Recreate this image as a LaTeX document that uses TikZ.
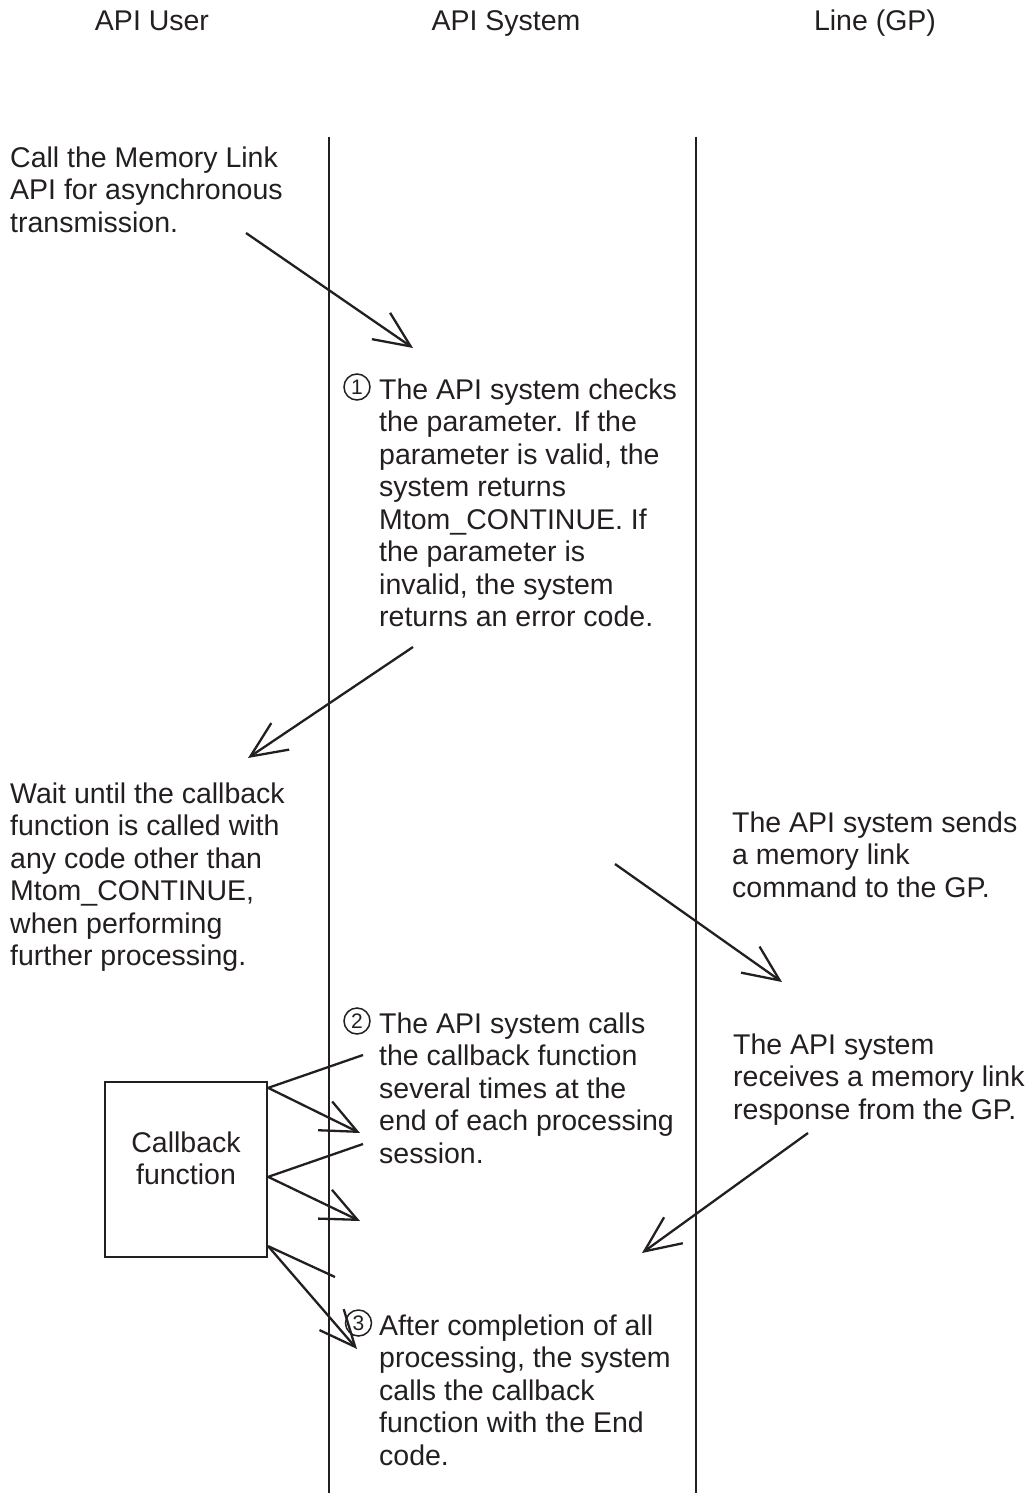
\documentclass[tikz,border=0pt]{standalone}
\usepackage{fontspec}
\setmainfont{Liberation Sans}
\usetikzlibrary{arrows.meta}
\definecolor{ink}{RGB}{35,31,32}
\begin{document}
\begin{tikzpicture}[x=1pt,y=-1pt,
  txt/.style={anchor=north west, inner sep=0pt, align=left, text=ink,
    font=\fontsize{28.5}{32.5}\selectfont},
  hdr/.style={anchor=base, inner sep=0pt, text=ink, font=\fontsize{28.5}{32.5}\selectfont},
  num/.style={circle, draw=ink, line width=1.5pt, minimum size=26pt, inner sep=0pt, text=ink,
    font=\fontsize{21}{22}\selectfont},
  lifeline/.style={draw=ink, line width=2.3pt},
  conn/.style={draw=ink, line width=2.3pt},
  arr/.style={conn, -{Straight Barb[length=36pt,width=32pt,line width=2.3pt]}},
  cbbox/.style={draw=ink, line width=2.3pt, minimum width=162pt, minimum height=175pt, inner sep=0pt}
]
\useasboundingbox (0,0) rectangle (1034,1493);
\newcommand{\st}{\vrule height 24pt width 0pt depth 0pt}

% headers
\node[hdr] (h1) at (152,31) {API User};
\node[hdr] (h2) at (506,31) {API System};
\node[hdr] (h3) at (875,31) {Line (GP)};

% lifelines
\coordinate (l1t) at (329,137);
\coordinate (l1b) at (329,1493);
\coordinate (l2t) at (696,137);
\coordinate (l2b) at (696,1493);
\draw[lifeline] (l1t) -- (l1b);
\draw[lifeline] (l2t) -- (l2b);

% texts
\node[txt] (call) at (10,143) {\st Call the Memory Link\\API for asynchronous\\transmission.};
\node[num] (n1) at (357,387) {1};
\node[txt] (t1) at (379,375) {\st The API system checks\\the parameter. If the\\parameter is valid, the\\system returns\\Mtom\_CONTINUE. If\\the parameter is\\invalid, the system\\returns an error code.};
\node[txt] (wait) at (10,779) {\st Wait until the callback\\function is called with\\any code other than\\Mtom\_CONTINUE,\\when performing\\further processing.};
\node[txt] (send) at (732,808) {\st The API system sends\\a memory link\\command to the GP.};
\node[num] (n2) at (357,1021) {2};
\node[txt] (t2) at (379,1009) {\st The API system calls\\the callback function\\several times at the\\end of each processing\\session.};
\node[txt] (recv) at (733,1030) {\st The API system\\receives a memory link\\response from the GP.};
\node[cbbox] (cb) at (186,1169.5) {};
\node[txt, anchor=north, align=center] (cbt) at (186,1128) {\st Callback\\function};
\node[num] (n3) at (358.5,1323) {3};
\node[txt] (t3) at (379,1311) {\st After completion of all\\processing, the system\\calls the callback\\function with the End\\code.};

% main arrows
\coordinate (a1s) at (246,233);  \coordinate (a1e) at (413,348);
\coordinate (a2s) at (413,647);  \coordinate (a2e) at (248,758);
\coordinate (a3s) at (615,864);  \coordinate (a3e) at (782,982);
\coordinate (a4s) at (808,1133); \coordinate (a4e) at (642,1253);
\draw[arr] (a1s) -- (a1e);
\draw[arr] (a2s) -- (a2e);
\draw[arr] (a3s) -- (a3e);
\draw[arr] (a4s) -- (a4e);

% callback connectors
\coordinate (c1) at ([yshift=-7pt]cb.north east);
\coordinate (c2) at ([yshift=-96pt]cb.north east);
\coordinate (c3) at ([yshift=12pt]cb.south east);
\coordinate (c1a) at (363,1055); \coordinate (c1b) at (360,1133);
\coordinate (c2a) at (363,1144); \coordinate (c2b) at (360,1221);
\coordinate (c3a) at (335,1277); \coordinate (c3b) at (357,1349);
\draw[conn] (c1) -- (c1a);
\draw[arr] (c1) -- (c1b);
\draw[conn] (c2) -- (c2a);
\draw[arr] (c2) -- (c2b);
\draw[conn] (c3) -- (c3a);
\draw[arr] (c3) -- (c3b);
\end{tikzpicture}
\end{document}
